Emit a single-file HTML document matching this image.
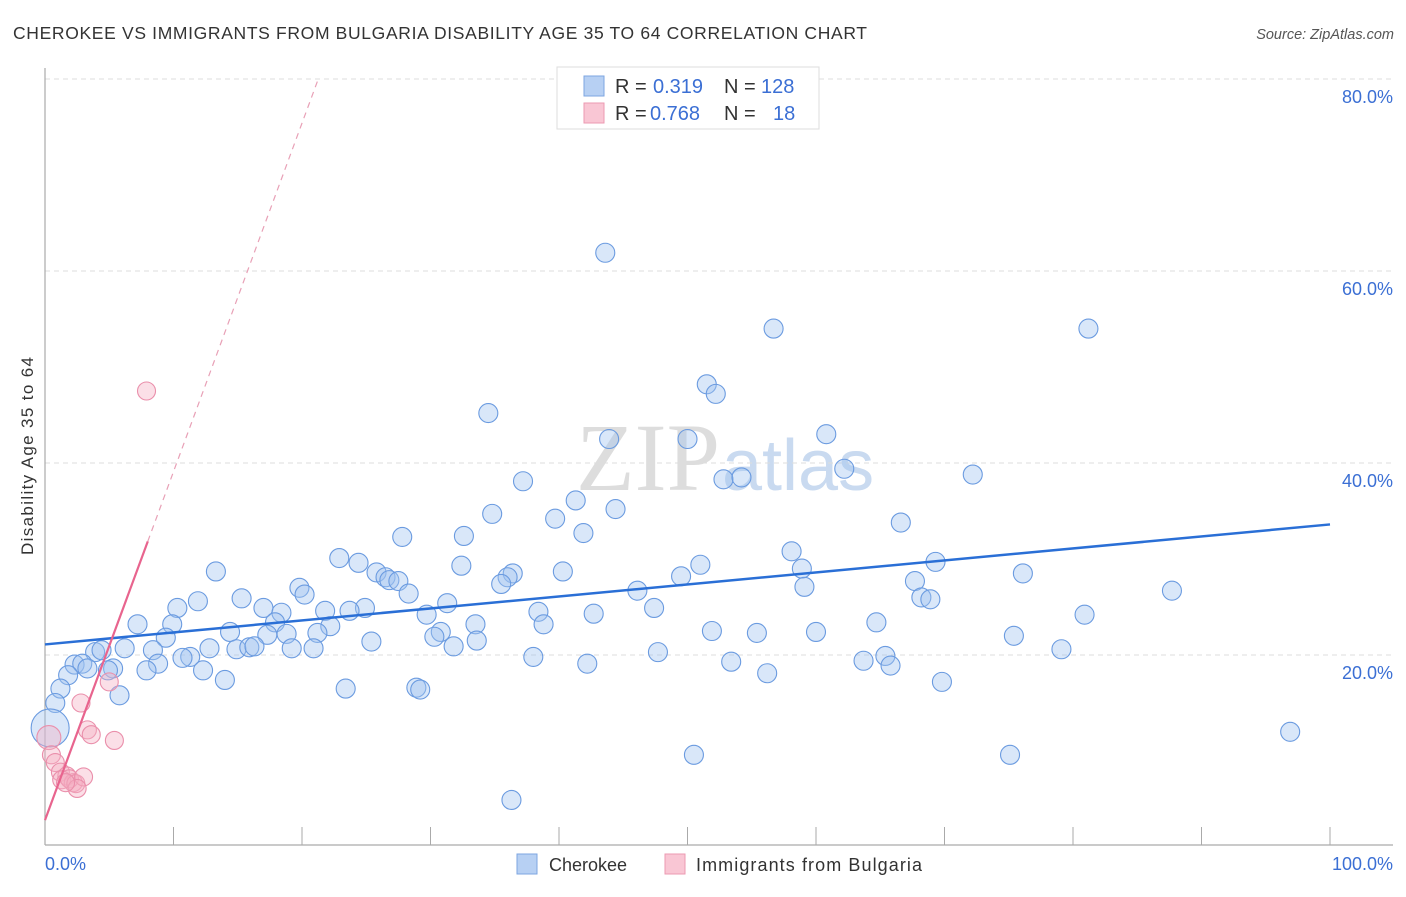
<!DOCTYPE html>
<html><head><meta charset="utf-8"><style>
body{margin:0;background:#fff;font-family:"Liberation Sans",sans-serif;}
</style></head><body>
<svg width="1406" height="892" xmlns="http://www.w3.org/2000/svg">
<text x="13" y="39" font-size="17.5" fill="#333" textLength="854" lengthAdjust="spacing">CHEROKEE VS IMMIGRANTS FROM BULGARIA DISABILITY AGE 35 TO 64 CORRELATION CHART</text>
<text x="1394" y="39" font-size="14.5" fill="#555" font-style="italic" text-anchor="end">Source: ZipAtlas.com</text>
<text x="720" y="490" font-size="96" fill="#ddd" text-anchor="end" font-family="Liberation Serif,serif">ZIP</text>
<text x="722" y="490" font-size="72" fill="#c9daf0">atlas</text>
<g id="grid"></g>
<g id="axes"></g>
<g id="pts"></g>
<g id="trend"></g>
<text transform="translate(33,456) rotate(-90)" font-size="17" fill="#333" text-anchor="middle" textLength="198" lengthAdjust="spacing">Disability Age 35 to 64</text>
<text x="45" y="870" font-size="18" fill="#3b6fd4">0.0%</text>
<text x="1393" y="870" font-size="18" fill="#3b6fd4" text-anchor="end">100.0%</text>
<g>
<rect x="557" y="67" width="262" height="62" fill="#fff" stroke="#ddd"/>
<rect x="584" y="76" width="20" height="20" fill="#b7d0f3" stroke="#7ea6e0"/>
<rect x="584" y="103" width="20" height="20" fill="#f9c6d4" stroke="#ec9ab2"/>
<text x="615" y="93" font-size="20" fill="#333">R = <tspan x="653" fill="#3b6fd4">0.319</tspan><tspan x="724">N = </tspan><tspan x="761" fill="#3b6fd4">128</tspan></text>
<text x="615" y="120" font-size="20" fill="#333">R = <tspan x="650" fill="#3b6fd4">0.768</tspan><tspan x="724">N = </tspan><tspan x="773" fill="#3b6fd4">18</tspan></text>
</g>
<g>
<rect x="517" y="854" width="20" height="20" fill="#b7d0f3" stroke="#7ea6e0"/>
<text x="549" y="871" font-size="18" fill="#333">Cherokee</text>
<rect x="665" y="854" width="20" height="20" fill="#f9c6d4" stroke="#ec9ab2"/>
<text x="696" y="871" font-size="18" fill="#333" textLength="226" lengthAdjust="spacing">Immigrants from Bulgaria</text>
</g>
</svg>
<script>
const yTicks=[20,40,60,80];
const yTickLabels=["20.0%","40.0%","60.0%","80.0%"];
const xTicks=[0,10,20,30,40,50,60,70,80,90,100];
const cherokeeX=[43.6,56.7,81.2,51.5,52.2,34.5,60.8,43.9,50.0,62.2,52.8,54.2,72.2,37.2,41.3,44.4,34.8,39.7,66.6,41.9,27.8,32.6,58.1,22.9,24.4,51.0,69.3,32.4,13.3,25.8,58.9,76.1,36.4,40.3,26.5,26.8,27.5,49.5,36.0,35.5,67.7,19.8,20.2,59.1,46.1,87.7,28.3,15.3,11.9,68.2,68.9,10.3,17.0,31.3,24.9,47.4,18.4,21.8,23.7,38.4,42.7,80.9,29.7,64.7,7.2,9.9,17.9,22.2,33.5,38.8,14.4,30.8,21.2,51.9,55.4,60.0,75.4,9.4,18.8,17.3,30.3,25.4,33.6,6.2,8.4,12.8,14.9,15.9,16.3,19.2,20.9,31.8,3.9,4.4,47.7,79.1,11.3,10.7,38.0,65.4,2.3,2.9,8.8,53.4,63.7,65.8,42.2,3.3,5.3,4.9,7.9,12.3,56.2,1.8,14.0,69.8,1.2,23.4,28.9,29.2,5.8,0.8,0.4,96.9,50.5,75.1,36.3];
const cherokeeY=[61.9,54.0,54.0,48.2,47.2,45.2,43.0,42.5,42.5,39.4,38.3,38.5,38.8,38.1,36.1,35.2,34.7,34.2,33.8,32.7,32.3,32.4,30.8,30.1,29.6,29.4,29.7,29.3,28.7,28.6,29.0,28.5,28.5,28.7,28.1,27.8,27.7,28.2,28.1,27.4,27.7,27.0,26.3,27.1,26.7,26.7,26.4,25.9,25.6,26.0,25.8,24.9,24.9,25.4,24.9,24.9,24.4,24.6,24.6,24.5,24.3,24.2,24.2,23.4,23.2,23.2,23.4,23.0,23.2,23.2,22.4,22.4,22.3,22.5,22.3,22.4,22.0,21.8,22.2,22.1,21.9,21.4,21.5,20.7,20.5,20.7,20.6,20.8,20.9,20.7,20.7,20.9,20.3,20.5,20.3,20.6,19.8,19.7,19.8,19.9,19.0,19.1,19.1,19.3,19.4,18.9,19.1,18.6,18.6,18.4,18.4,18.4,18.1,17.9,17.4,17.2,16.5,16.5,16.6,16.4,15.8,15.0,12.4,12.0,9.6,9.6,4.9];
const bulgariaX=[7.9,5.0,2.8,3.3,3.6,5.4,0.3,0.5,0.8,1.2,1.7,1.3,2.2,1.9,2.4,3.0,2.5,1.6];
const bulgariaY=[47.5,17.2,15.0,12.2,11.7,11.1,11.4,9.6,8.8,7.8,7.4,7.0,6.7,7.1,6.6,7.3,6.1,6.7];
const cherokeeTrend=[21.1,33.6];
const bulgariaTrend=[2.8,3.63];
const NS="http://www.w3.org/2000/svg";
const sx=v=>45+v*12.85, sy=v=>847-v*9.6;
function mk(t,a,p){const e=document.createElementNS(NS,t);for(const k in a)e.setAttribute(k,a[k]);document.getElementById(p).appendChild(e);return e;}
yTicks.forEach((t,i)=>{
 const l=mk('line',{x1:45,x2:1393,y1:sy(t),y2:sy(t),stroke:'#ddd','stroke-dasharray':'5,4'},'grid');
 
 
 const tx=mk('text',{x:1393,y:sy(t)+24,'font-size':18,fill:'#3b6fd4','text-anchor':'end'},'grid');
 tx.textContent=yTickLabels[i];
 
 
});
const ax=mk('line',{x1:45,x2:45,y1:68,y2:845,stroke:'#aaa','stroke-width':1.2},'axes');


const bx=mk('line',{x1:45,x2:1393,y1:845,y2:845,stroke:'#aaa','stroke-width':1.2},'axes');


xTicks.forEach(t=>{const l=mk('line',{x1:sx(t),x2:sx(t),y1:827,y2:845,stroke:'#aaa'},'axes');
 
 });
cherokeeX.forEach((x,i)=>{const r=(x<0.5&&cherokeeY[i]<13)?19:9.5;
 const c=mk('circle',{cx:sx(x),cy:sy(cherokeeY[i]),r:r,fill:'rgba(160,196,240,0.4)',stroke:'#6b9be0','stroke-width':1.1},'pts');
 
 });
bulgariaX.forEach((x,i)=>{const r=(x<0.4)?12:9;
 const c=mk('circle',{cx:sx(x),cy:sy(bulgariaY[i]),r:r,fill:'rgba(246,176,196,0.4)',stroke:'#ea8fab','stroke-width':1.1},'pts');
 
 });
const t1=mk('line',{x1:sx(0),y1:sy(cherokeeTrend[0]),x2:sx(100),y2:sy(cherokeeTrend[1]),stroke:'#2a6fd6','stroke-width':2.5},'trend');


const bf=x=>bulgariaTrend[0]+bulgariaTrend[1]*x;
const t2=mk('line',{x1:sx(0),y1:sy(bf(0)),x2:sx(8),y2:sy(bf(8)),stroke:'#e8648e','stroke-width':2.2},'trend');


const t3=mk('line',{x1:sx(8),y1:sy(bf(8)),x2:sx(21.2),y2:sy(bf(21.2)),stroke:'#e8a0b6','stroke-width':1.2,'stroke-dasharray':'6,5'},'trend');


</script>
</body></html>
